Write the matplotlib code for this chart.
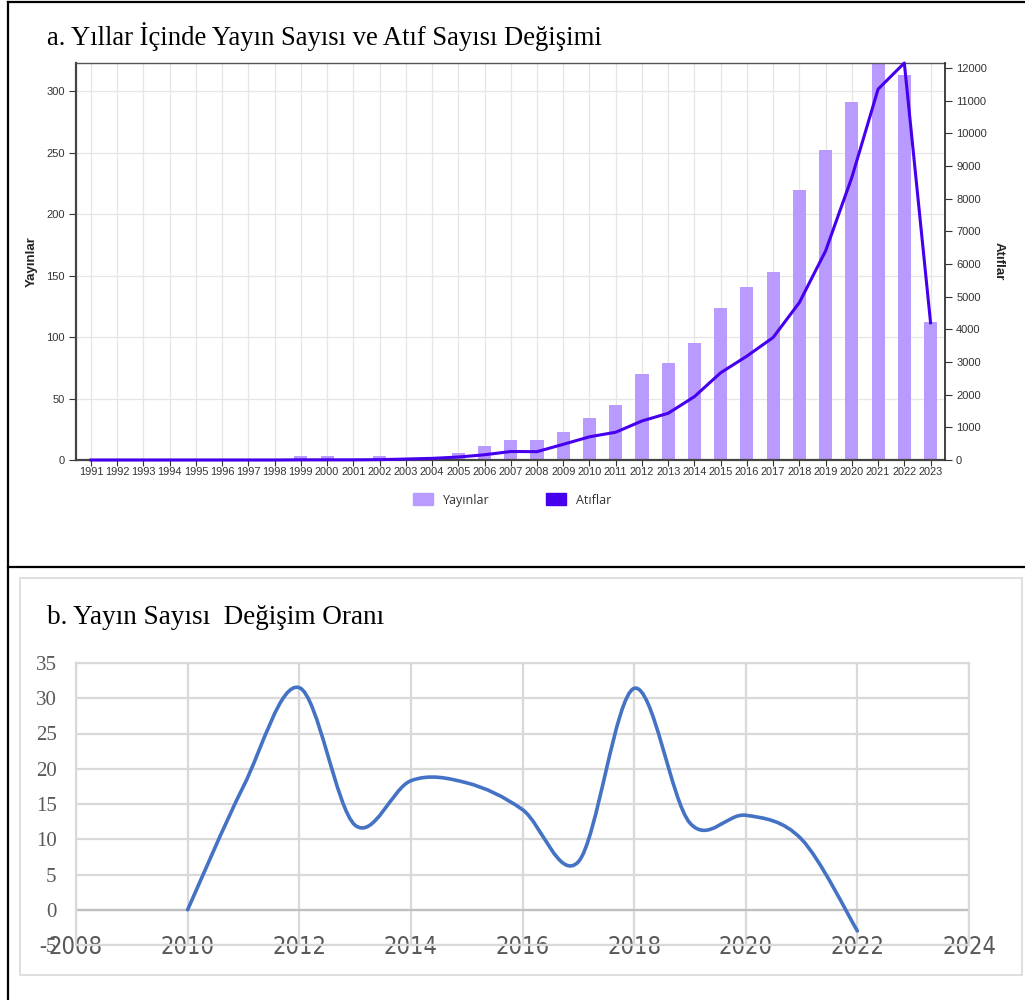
import matplotlib
matplotlib.use('Agg')

import numpy as np
import matplotlib.pyplot as plt
from matplotlib.lines import Line2D
from matplotlib.patches import Patch, Rectangle, PathPatch
from matplotlib.path import Path

plt.rcParams['axes.unicode_minus'] = False

# --- data: panel a ---
years = list(range(1991, 2024))
yayinlar = [1, 0, 0, 0, 1, 0, 0, 0, 3, 3, 0, 3, 0, 2, 6, 11, 16, 16, 23, 34,
            45, 70, 79, 95, 124, 141, 153, 220, 252, 291, 330, 313, 112]
atiflar = [0, 0, 0, 0, 0, 0, 0, 0, 5, 5, 5, 10, 30, 50, 90, 160, 260, 255, 480, 710,
           850, 1195, 1430, 1940, 2670, 3180, 3750, 4820, 6400, 8650, 11350, 12150, 4200]

# --- data: panel b ---
b_years = [2010, 2011, 2012, 2013, 2014, 2015, 2016, 2017, 2018, 2019, 2020, 2021, 2022]
b_oran = [0, 17.5, 31.5, 12.0, 18.3, 18.0, 14.2, 6.8, 31.4, 12.3, 13.4, 10.0, -3.0]

bar_color = '#b99aff'
line_color = '#4600ee'

fig = plt.figure(figsize=(10.25, 10), dpi=100)

# outer frame lines
fig.add_artist(Line2D([0.0078, 0.0078], [0, 0.998], color='black', lw=1.6))
fig.add_artist(Line2D([0.0078, 1], [0.998, 0.998], color='black', lw=1.6))
fig.add_artist(Line2D([0.0078, 1], [0.433, 0.433], color='black', lw=1.6))
fig.add_artist(Rectangle((20 / 1025, 0.025), 1002 / 1025, 0.397, transform=fig.transFigure,
                         fill=False, edgecolor='#d9d9d9', lw=1.2))

# ---------------- panel a ----------------
fig.text(47 / 1025, 0.963, 'a. Yıllar İçinde Yayın Sayısı ve Atıf Sayısı Değişimi',
         family='Liberation Serif', fontsize=19.2, va='center', ha='left')

ax = fig.add_axes([76 / 1025, 0.54, (945 - 76) / 1025, 0.397])
ax.bar(years, yayinlar, width=0.5, color=bar_color, zorder=2)
ax.set_xlim(1990.43, 2023.55)
ax.set_ylim(0, 323)
ax.set_yticks(range(0, 301, 50))
ax.set_xticks(years)
ax.set_xticklabels([str(y) for y in years])
ax.grid(True, color='#e6e6e6', lw=0.9, zorder=0)
ax.set_axisbelow(True)
ax.tick_params(axis='x', labelsize=7.9, pad=1, length=4, color='#333333', labelcolor='#333333')
ax.tick_params(axis='y', labelsize=8, pad=3, length=5, color='#333333', labelcolor='#333333')
for s in ['left', 'bottom']:
    ax.spines[s].set_color('#444444')
    ax.spines[s].set_linewidth(1.6)
ax.spines['top'].set_color('#555555')
ax.spines['top'].set_linewidth(1.0)
ax.spines['right'].set_visible(False)
for lab in ax.get_xticklabels() + ax.get_yticklabels():
    lab.set_family('Liberation Sans')
ax.set_ylabel('Yayınlar', family='Liberation Sans', fontsize=9.5, fontweight='bold',
              color='#222222', labelpad=6)

ax2 = ax.twinx()
ax2.plot(years, atiflar, color=line_color, lw=2.2, zorder=3, clip_on=False)
ax2.set_ylim(0, 12150)
ax2.set_yticks(range(0, 12001, 1000))
ax2.tick_params(axis='y', labelsize=8, pad=3, length=5, color='#333333', labelcolor='#333333')
for lab in ax2.get_yticklabels():
    lab.set_family('Liberation Sans')
ax2.spines['right'].set_color('#333333')
ax2.spines['right'].set_linewidth(1.3)
for s in ['left', 'top', 'bottom']:
    ax2.spines[s].set_visible(False)
ax2.set_ylabel('Atıflar', family='Liberation Sans', fontsize=9.5, fontweight='bold',
               color='#222222', rotation=270, labelpad=13)

handles = [Patch(facecolor=bar_color, edgecolor=bar_color, label='Yayınlar'),
           Patch(facecolor=line_color, edgecolor=line_color, label='Atıflar')]
fig.legend(handles=handles, loc='center', bbox_to_anchor=(0.5, 0.5), ncol=2, frameon=False,
           prop={'family': 'Open Sans', 'size': 9}, handlelength=1.6, handleheight=1.1,
           columnspacing=4.5, handletextpad=0.8, labelcolor='#333333')

# ---------------- panel b ----------------
fig.text(47 / 1025, 0.383, 'b. Yayın Sayısı  Değişim Oranı',
         family='Liberation Serif', fontsize=19.5, va='center', ha='left')

bx = fig.add_axes([76 / 1025, 0.055, (969 - 76) / 1025, 0.282])
bx.set_xlim(2008, 2024)
bx.set_ylim(-5, 35)
bx.set_xticks(range(2008, 2025, 2))
bx.set_yticks(range(-5, 36, 5))
bx.grid(True, color='#d9d9d9', lw=1.6, zorder=0)
bx.set_axisbelow(True)
bx.axhline(0, color='#bfbfbf', lw=1.6, zorder=1)
for s in bx.spines.values():
    s.set_color('#d9d9d9')
    s.set_linewidth(1.6)
bx.tick_params(axis='both', length=0)
bx.tick_params(axis='y', labelsize=15, pad=14, labelcolor='#595959')
bx.tick_params(axis='x', labelsize=17, pad=-7.5, labelcolor='#595959')
for lab in bx.get_yticklabels():
    lab.set_family('Liberation Serif')
for lab in bx.get_xticklabels():
    lab.set_family('DejaVu Sans')
    lab.set_stretch('condensed')
    lab.set_zorder(5)

# smooth curve like Excel's "smoothed line": cubic Bezier segments
pts = np.column_stack([b_years, b_oran]).astype(float)
ext = np.vstack([pts[0], pts, pts[-1]])
verts = [tuple(pts[0])]
codes = [Path.MOVETO]
for i in range(len(pts) - 1):
    p0, p1, p2, p3 = ext[i], ext[i + 1], ext[i + 2], ext[i + 3]
    c1 = p1 + (p2 - p0) / 6.0
    c2 = p2 - (p3 - p1) / 6.0
    verts += [tuple(c1), tuple(c2), tuple(p2)]
    codes += [Path.CURVE4] * 3
bx.add_patch(PathPatch(Path(verts, codes), facecolor='none', edgecolor='#4472c4',
                       lw=2.6, capstyle='round', joinstyle='round', zorder=3))

fig.savefig('out.png', dpi=100)
